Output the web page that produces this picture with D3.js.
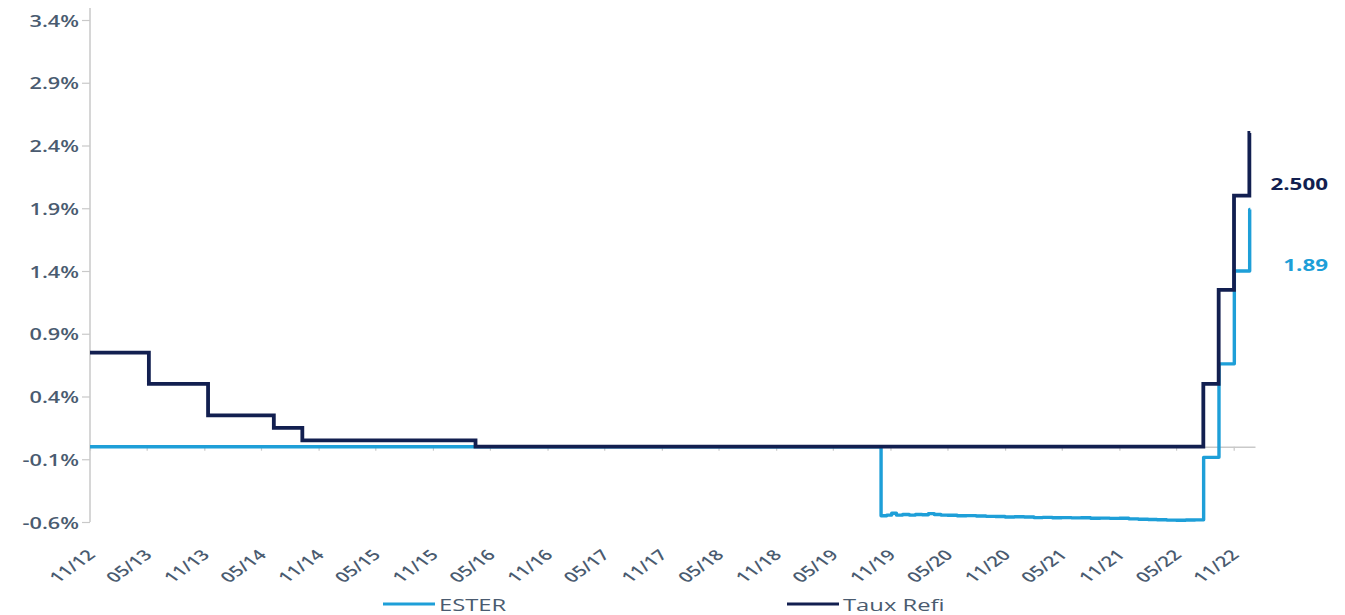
<!DOCTYPE html>
<html>
<head>
<meta charset="utf-8">
<script src="https://cdn.jsdelivr.net/npm/d3@7"></script>
<style>
  html, body { margin: 0; padding: 0; background: #ffffff; }
  svg { display: block; }
  text { font-family: "Open Sans", "Noto Sans", sans-serif; }
</style>
</head>
<body>
<svg id="chart" width="1345" height="615"></svg>
<script>
// ECB main refinancing rate (%), effective dates of each change
const refiDates = ["2012-11-01", "2013-05-08", "2013-11-13", "2014-06-11", "2014-09-10",
                   "2016-03-16", "2022-07-27", "2022-09-14", "2022-11-02", "2022-12-21", "2022-12-24"];
const refiRates = [0.75, 0.50, 0.25, 0.15, 0.05, 0.00, 0.50, 1.25, 2.00, 2.50, 2.50];

// €STR (%), flat before its launch, then observed levels
const esterDates = ["2012-11-01", "2019-10-02", "2019-10-20", "2019-11-05", "2019-11-20", "2019-12-10",
                    "2019-12-31", "2020-01-20", "2020-02-10", "2020-03-01", "2020-03-20", "2020-04-10",
                    "2020-05-01", "2020-06-01", "2020-07-01", "2020-08-01", "2020-09-01", "2020-10-01",
                    "2020-11-01", "2020-12-01", "2021-01-01", "2021-02-01", "2021-03-01", "2021-04-01",
                    "2021-05-01", "2021-06-01", "2021-07-01", "2021-08-01", "2021-09-01", "2021-10-01",
                    "2021-11-01", "2021-12-01", "2022-01-01", "2022-02-01", "2022-03-01", "2022-04-01",
                    "2022-05-01", "2022-06-01", "2022-07-01", "2022-07-28", "2022-09-15", "2022-11-03",
                    "2022-12-22", "2022-12-24"];
const esterRates = [0.00, -0.550, -0.545, -0.530, -0.545, -0.540,
                    -0.545, -0.540, -0.542, -0.533, -0.540, -0.545,
                    -0.546, -0.550, -0.549, -0.552, -0.555, -0.556,
                    -0.560, -0.558, -0.560, -0.565, -0.563, -0.566,
                    -0.565, -0.567, -0.566, -0.570, -0.569, -0.571,
                    -0.570, -0.575, -0.578, -0.580, -0.582, -0.585,
                    -0.586, -0.584, -0.583, -0.085, 0.660, 1.400,
                    1.890, 1.890];

// Axis ticks
const xTickLabels = ["11/12", "05/13", "11/13", "05/14", "11/14", "05/15", "11/15", "05/16",
                     "11/16", "05/17", "11/17", "05/18", "11/18", "05/19", "11/19", "05/20",
                     "11/20", "05/21", "11/21", "05/22", "11/22"];
const yTicks = [-0.6, -0.1, 0.4, 0.9, 1.4, 1.9, 2.4, 2.9, 3.4];

// Legend and end-of-series labels
const seriesNames = ["ESTER", "Taux Refi"];
const lastLabels = ["1.89", "2.500"];

const COLORS = { ester: "#1e9fd8", refi: "#121f50", axis: "#c9c9c9", label: "#4a5b70" };
const SX = 1.4; // horizontal stretch applied to the lettering

const parseDay = d3.timeParse("%Y-%m-%d");
const parseTick = d3.timeParse("%m/%y");

const refi = refiDates.map((d, i) => ({ date: parseDay(d), value: refiRates[i] }));
const ester = esterDates.map((d, i) => ({ date: parseDay(d), value: esterRates[i] }));
const tickDates = xTickLabels.map(parseTick);

const svg = d3.select("#chart");

const x = d3.scaleTime()
  .domain([parseDay("2012-11-01"), parseDay("2023-01-08")])
  .range([90, 1255]);
const y = d3.scaleLinear().domain([-0.6, 3.4]).range([522, 20]);

// Y axis
const yAxis = svg.append("g").attr("transform", "translate(90,0)")
  .call(d3.axisLeft(y).tickValues(yTicks).tickSize(8).tickSizeOuter(0)
    .tickFormat(d => d.toFixed(1) + "%"));
yAxis.select(".domain").remove();
yAxis.append("line").attr("x1", 0).attr("x2", 0).attr("y1", 8).attr("y2", 522)
  .attr("stroke", COLORS.axis).attr("stroke-width", 1.5);
yAxis.selectAll(".tick line").attr("stroke", COLORS.axis).attr("stroke-width", 1.2);
yAxis.selectAll(".tick text")
  .attr("x", null).attr("dy", null)
  .attr("transform", `translate(-11,6) scale(${SX},1)`)
  .attr("fill", COLORS.label).style("font-size", "15.5px").style("font-weight", 600);

// Zero line with small date ticks
const zeroAxis = svg.append("g").attr("transform", `translate(0,${y(0)})`)
  .call(d3.axisBottom(x).tickValues(tickDates).tickSize(4).tickSizeOuter(0).tickFormat(""));
zeroAxis.select(".domain").attr("stroke", COLORS.axis).attr("stroke-width", 1.5);
zeroAxis.selectAll(".tick line").attr("stroke", COLORS.axis).attr("stroke-width", 1.2);

// Date labels along the bottom
const xLabels = svg.append("g").attr("transform", "translate(0,556)")
  .call(d3.axisBottom(x).tickValues(tickDates).tickSize(0)
    .tickFormat((d, i) => xTickLabels[i]));
xLabels.select(".domain").remove();
xLabels.selectAll(".tick text")
  .attr("y", null).attr("dy", null)
  .attr("text-anchor", "end")
  .attr("transform", `translate(6,0) scale(${SX},1) rotate(-45)`)
  .attr("fill", COLORS.label).style("font-size", "14.5px").style("font-weight", 600);

// Series lines (step shaped)
const line = d3.line().x(d => x(d.date)).y(d => y(d.value)).curve(d3.curveStepAfter);

svg.append("path").datum(ester)
  .attr("d", line).attr("fill", "none")
  .attr("stroke", COLORS.ester).attr("stroke-width", 3.4).attr("stroke-linejoin", "round");

svg.append("path").datum(refi)
  .attr("d", line).attr("fill", "none")
  .attr("stroke", COLORS.refi).attr("stroke-width", 3.8).attr("stroke-linejoin", "miter");

// Last values
const lastEster = ester[ester.length - 1];
const lastRefi = refi[refi.length - 1];
svg.append("text")
  .attr("transform", `translate(1328,${y(lastRefi.value) + 57}) scale(${SX},1)`)
  .attr("text-anchor", "end").attr("fill", COLORS.refi)
  .style("font-size", "16px").style("font-weight", 700)
  .text(d3.format(".3f")(lastRefi.value));
svg.append("text")
  .attr("transform", `translate(1328,${y(lastEster.value) + 61}) scale(${SX},1)`)
  .attr("text-anchor", "end").attr("fill", COLORS.ester)
  .style("font-size", "16px").style("font-weight", 700)
  .text(lastLabels[0]);

// Legend
const legendItems = [
  { name: seriesNames[0], color: COLORS.ester, x: 383 },
  { name: seriesNames[1], color: COLORS.refi, x: 787 }
];
const legend = svg.append("g").selectAll("g").data(legendItems).join("g")
  .attr("transform", d => `translate(${d.x},604)`);
legend.append("line").attr("x1", 0).attr("x2", 52).attr("y1", 0).attr("y2", 0)
  .attr("stroke", d => d.color).attr("stroke-width", 3.2);
legend.append("text")
  .attr("transform", `translate(56,6.5) scale(${SX},1)`)
  .attr("fill", COLORS.label).style("font-size", "17px").style("font-weight", 500)
  .text(d => d.name);
</script>
</body>
</html>
